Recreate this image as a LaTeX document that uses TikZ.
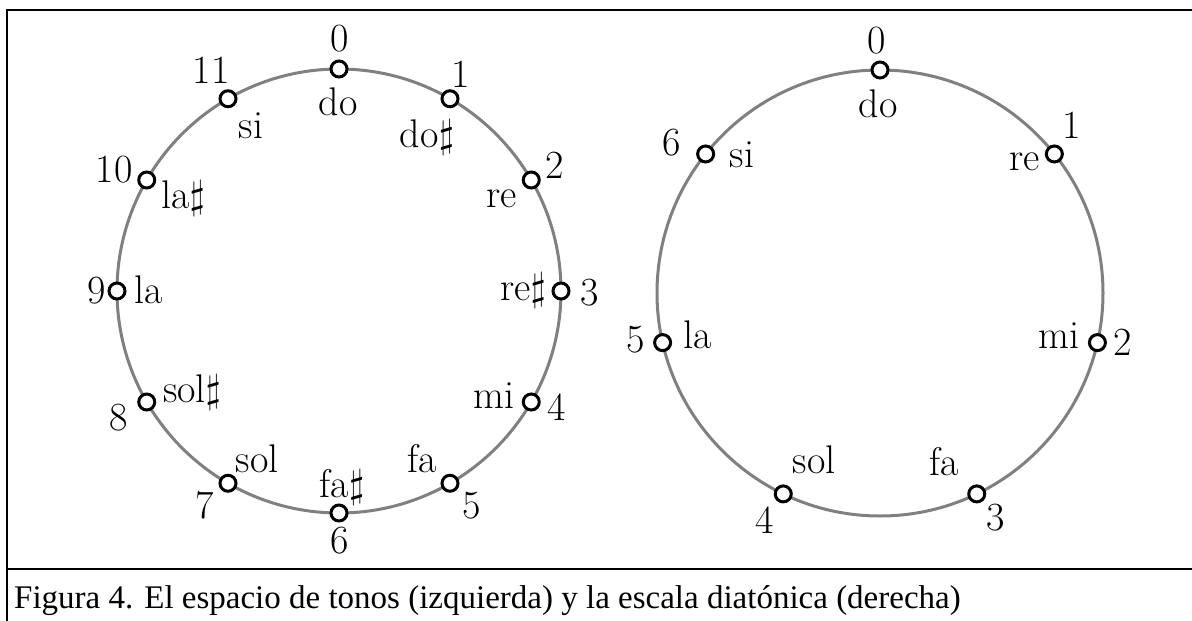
\RequirePackage{fix-cm}
\documentclass[tikz,border=0pt]{standalone}
\usepackage{fontspec}
\usetikzlibrary{calc}
\newfontfamily\capfont{Liberation Serif}
\newcommand\capsize{\fontsize{33}{40}\selectfont}
\begin{document}
\begin{tikzpicture}[x=1pt,y=-1pt,
  ring/.style={draw=gray, line width=3pt},
  pnt/.style={circle, draw=black, fill=white, line width=3pt, minimum size=16pt, inner sep=0pt},
  lbl/.style={anchor=base, inner sep=0pt, font=\fontsize{40}{48}\selectfont},
  frameline/.style={line width=2.5pt}]
\useasboundingbox (0,0) rectangle (1192,621);
\draw[frameline] (7,621) -- (7,10) -- (1192,10);
\draw[frameline] (7,569) -- (1192,569);
\node[anchor=base west, inner sep=0pt] (cap) at (14,608)
  {\capfont\capsize Figura 4. El espacio de tonos (izquierda) y la escala diatónica (derecha)};
% left circle
\coordinate (CL) at (339,291);
\draw[ring] (CL) circle[radius=222pt];
\foreach \k in {0,...,11}{
  \node[pnt] (L\k) at ($(CL)+(90-30*\k:222pt)$) {};
}
\node[lbl] (Ln0) at (340,51) {0};   \node[lbl] (Lt0) at (338,115) {do};
\node[lbl] (Ln1) at (461,87) {1};   \node[lbl] (Lt1) at (427,147) {do$\sharp$};
\node[lbl] (Ln2) at (555,178) {2};  \node[lbl] (Lt2) at (502,207) {re};
\node[lbl] (Ln3) at (590,305) {3};  \node[lbl] (Lt3) at (523,300) {re$\sharp$};
\node[lbl] (Ln4) at (557,420) {4};  \node[lbl] (Lt4) at (494,408) {mi};
\node[lbl] (Ln5) at (472,518) {5};  \node[lbl] (Lt5) at (422,472) {fa};
\node[lbl] (Ln6) at (340,553) {6};  \node[lbl] (Lt6) at (342,497) {fa$\sharp$};
\node[lbl] (Ln7) at (205,518) {7};  \node[lbl] (Lt7) at (257,472) {sol};
\node[lbl] (Ln8) at (119,430) {8};  \node[lbl] (Lt8) at (192,402) {sol$\sharp$};
\node[lbl] (Ln9) at (97,303) {9};   \node[lbl] (Lt9) at (149,303) {la};
\node[lbl] (Ln10) at (114,182) {10}; \node[lbl] (Lt10) at (183,208) {la$\sharp$};
\node[lbl] (Ln11) at (211,83) {11}; \node[lbl] (Lt11) at (251,138) {si};
% right circle
\coordinate (CR) at (880,293);
\draw[ring] (CR) circle[radius=223pt];
\foreach \k in {0,...,6}{
  \node[pnt] (R\k) at ($(CR)+(90-360/7*\k:223pt)$) {};
}
\node[lbl] (Rn0) at (877,53) {0};   \node[lbl] (Rt0) at (878,117) {do};
\node[lbl] (Rn1) at (1072,138) {1}; \node[lbl] (Rt1) at (1025,170) {re};
\node[lbl] (Rn2) at (1123,355) {2}; \node[lbl] (Rt2) at (1059,348) {mi};
\node[lbl] (Rn3) at (996,530) {3};  \node[lbl] (Rt3) at (944,475) {fa};
\node[lbl] (Rn4) at (765,533) {4};  \node[lbl] (Rt4) at (814,473) {sol};
\node[lbl] (Rn5) at (636,352) {5};  \node[lbl] (Rt5) at (698,348) {la};
\node[lbl] (Rn6) at (672,155) {6};  \node[lbl] (Rt6) at (742,167) {si};
\end{tikzpicture}
\end{document}
